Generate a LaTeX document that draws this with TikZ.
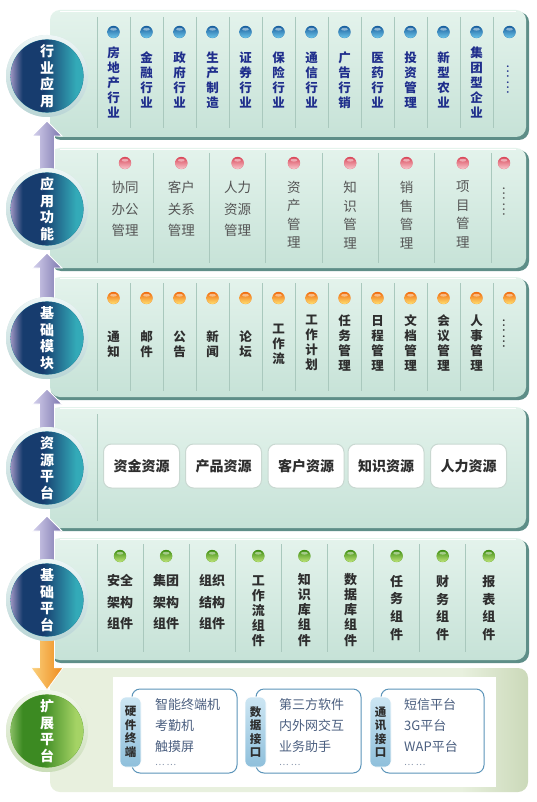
\documentclass[tikz,border=0pt]{standalone}
\usepackage{fontspec}
\setmainfont{Noto Sans CJK SC}
\usetikzlibrary{calc}
\definecolor{paneltop}{HTML}{E4F3EC}
\definecolor{panelbot}{HTML}{C6E2D7}
\definecolor{panelshadow}{HTML}{5E8E88}
\definecolor{sepcol}{HTML}{A9C8BD}
\definecolor{bluetxt}{HTML}{1F2E8C}
\definecolor{graytxt}{HTML}{555555}
\definecolor{darktxt}{HTML}{2E2E2E}
\definecolor{ringtop}{HTML}{EEF6F6}
\definecolor{ringbot}{HTML}{B9D5D5}
\definecolor{gringtop}{HTML}{F2F7EC}
\definecolor{gringbot}{HTML}{CADDB8}
\definecolor{cnavy}{HTML}{173C6E}
\definecolor{cteal}{HTML}{33AAB8}
\definecolor{clav}{HTML}{9B93C0}
\definecolor{gdark}{HTML}{3C8A22}
\definecolor{glight}{HTML}{A5D365}
\definecolor{glav}{HTML}{86BC62}
\definecolor{arrL}{HTML}{D6D2EE}
\definecolor{arrR}{HTML}{7C76AE}
\definecolor{orL}{HTML}{FBD27E}
\definecolor{orR}{HTML}{EE8A1C}
\definecolor{dbluet}{HTML}{1A5E9E}
\definecolor{dblueb}{HTML}{6CC6EA}
\definecolor{dpinkt}{HTML}{D9485A}
\definecolor{dpinkb}{HTML}{F9C6CC}
\definecolor{doranget}{HTML}{F06A10}
\definecolor{dorangeb}{HTML}{FFE070}
\definecolor{dgreent}{HTML}{3F8E14}
\definecolor{dgreenb}{HTML}{BFE47A}
\definecolor{boxblue}{HTML}{5B94B9}
\definecolor{tabtop}{HTML}{CDE6F3}
\definecolor{tabbot}{HTML}{8EBFDB}
\definecolor{itemtxt}{HTML}{4B5F80}
\definecolor{extL}{HTML}{E8F0DE}
\definecolor{extR}{HTML}{CBD9B9}
\definecolor{resline}{HTML}{C9D8D1}
\pgfdeclarehorizontalshading{circblue}{100bp}{color(0bp)=(clav); color(25bp)=(clav); color(33bp)=(cnavy); color(47bp)=(cnavy); color(70bp)=(cteal); color(100bp)=(cteal)}
\pgfdeclarehorizontalshading{circgreen}{100bp}{color(0bp)=(glav); color(25bp)=(glav); color(33bp)=(gdark); color(47bp)=(gdark); color(70bp)=(glight); color(100bp)=(glight)}
\pgfdeclarehorizontalshading{extshade}{100bp}{color(0bp)=(extL); color(25bp)=(extL); color(68bp)=(extL); color(75bp)=(extR); color(100bp)=(extR)}
\tikzset{
  sepline/.style={draw=sepcol, line width=0.9pt},
  txtone/.style={text=bluetxt, font=\bfseries\fontsize{12.5}{15}\selectfont, align=center, inner sep=0pt},
  txttwo/.style={text=graytxt, font=\fontsize{13.5}{21.5}\selectfont, align=center, inner sep=0pt, anchor=north},
  txttwov/.style={text=graytxt, font=\fontsize{13.5}{18.5}\selectfont, align=center, inner sep=0pt, anchor=north},
  txtthree/.style={text=darktxt, font=\bfseries\fontsize{12.5}{15}\selectfont, align=center, inner sep=0pt},
  txtfive/.style={text=darktxt, font=\bfseries\fontsize{13}{21.5}\selectfont, align=center, inner sep=0pt, anchor=north},
  txtfivev/.style={text=darktxt, font=\bfseries\fontsize{13}{15.2}\selectfont, align=center, inner sep=0pt, anchor=north},
  txtfivew/.style={text=darktxt, font=\bfseries\fontsize{13}{17.7}\selectfont, align=center, inner sep=0pt, anchor=north},
  ellip/.style={font=\fontsize{13}{13}\selectfont, rotate=-90, inner sep=0pt},
  dotb/.style={top color=dbluet, bottom color=dblueb},
  dotp/.style={top color=dpinkt, bottom color=dpinkb},
  doto/.style={top color=doranget, bottom color=dorangeb},
  dotg/.style={top color=dgreent, bottom color=dgreenb},
  resbox/.style={draw=resline, line width=1pt, fill=white, rounded corners=8pt, minimum width=76pt, minimum height=44pt, inner sep=0pt, font=\bfseries\fontsize{14}{16}\selectfont, text=darktxt},
  circslot/.style={circle, minimum size=82pt, inner sep=0pt},
  ringblue/.style={circle, minimum size=82pt, inner sep=0pt, top color=ringtop, bottom color=ringbot},
  ringgreen/.style={circle, minimum size=82pt, inner sep=0pt, top color=gringtop, bottom color=gringbot},
  circtext/.style={text=white, font=\bfseries\fontsize{14}{16.5}\selectfont, align=center, inner sep=0pt},
  uparr/.style={left color=arrL, right color=arrR, draw=white, line width=0.8pt},
  dnarr/.style={left color=orL, right color=orR, draw=white, line width=0.8pt},
  extbox/.style={draw=boxblue, line width=1pt, fill=white, rounded corners=8pt},
  tabbox/.style={top color=tabtop, bottom color=tabbot, draw=white, line width=0.6pt, rounded corners=6pt, minimum width=21pt, minimum height=70pt, inner sep=0pt, align=center, text=darktxt, font=\bfseries\fontsize{11.5}{13.5}\selectfont},
  item/.style={anchor=west, inner sep=0pt, text=itemtxt, font=\fontsize{13}{15}\selectfont},
  itemdots/.style={anchor=west, inner sep=0pt, text=itemtxt!70, font=\fontsize{9}{10}\selectfont}
}
\newcommand\upar[3]{\path[uparr] let \p1=(#1.south), \p2=(#2.north) in
  (\x1,-#3pt) -- (\x1+15pt,-#3pt-15pt) -- (\x1+7.5pt,-#3pt-15pt) -- (\x1+7.5pt,\y2-12pt)
  -- (\x1-7.5pt,\y2-12pt) -- (\x1-7.5pt,-#3pt-15pt) -- (\x1-15pt,-#3pt-15pt) -- cycle;}
\newcommand\dnar[2]{\path[dnarr] let \p1=(#1.south), \p2=(#2.north) in
  (\x2,\y2) -- (\x2+16pt,\y2+22pt) -- (\x2+7.5pt,\y2+22pt) -- (\x2+7.5pt,\y1+12pt)
  -- (\x2-7.5pt,\y1+12pt) -- (\x2-7.5pt,\y2+22pt) -- (\x2-16pt,\y2+22pt) -- cycle;}
\newcommand\gdot[4]{\fill[#4] (#2,#3) circle (6.2);\shade[#1] (#2,#3) circle (6);\fill[white, opacity=0.45] (#2,#3-2.8) ellipse (3.4 and 1.4);}
\begin{document}
\begin{tikzpicture}[x=1pt,y=-1pt]
\useasboundingbox (0,0) rectangle (536,802);
\fill[white] (0,0) rectangle (536,802);
% ---- panels
\foreach \t/\b in {10/137,148/268,277/397,407/528,538/660}{
  \fill[panelshadow, rounded corners=10pt] (51,\t+2) rectangle (529,\b+3);
  \shade[top color=paneltop, bottom color=panelbot, rounded corners=10pt] (50,\t) rectangle (526,\b);
  \draw[white, line width=1pt] (60,\t+1.5) -- (516,\t+1.5);
}
\shade[shading=extshade, rounded corners=10pt] (50,668) rectangle (528,792);
\fill[white] (113,677) rectangle (496,787);
% ---- separators
\foreach \i in {0,...,12}{\draw[sepline] (97+33*\i,17) -- ++(0,111);}
\foreach \i in {0,...,7}{\draw[sepline] (97+56.3*\i,153) -- ++(0,110);}
\foreach \i in {0,...,12}{\draw[sepline] (97+33*\i,283) -- ++(0,108);}
\draw[sepline] (97,414) -- ++(0,107);
\foreach \i in {0,...,8}{\draw[sepline] (97+46.1*\i,544) -- ++(0,108);}
% ---- dots
\foreach \i in {0,...,12}{\gdot{dotb}{113.5+33*\i}{32}{dbluet!70!dblueb}}
\foreach \i in {0,...,6}{\gdot{dotp}{125+56.3*\i}{163}{dpinkt!70!dpinkb}}
\gdot{dotp}{504}{163}{dpinkt!70!dpinkb}
\foreach \i in {0,...,12}{\gdot{doto}{113.5+33*\i}{298}{doranget!70!dorangeb}}
\foreach \i in {0,...,8}{\gdot{dotg}{120+46.1*\i}{556}{dgreent!70!dgreenb}}
% ---- band 1: 行业应用
\node[txtone] (a1) at (113.5,82) {房\\地\\产\\行\\业};
\node[txtone] (a2) at (146.5,80) {金\\融\\行\\业};
\node[txtone] (a3) at (179.5,80) {政\\府\\行\\业};
\node[txtone] (a4) at (212.5,80) {生\\产\\制\\造};
\node[txtone] (a5) at (245.5,80) {证\\券\\行\\业};
\node[txtone] (a6) at (278.5,80) {保\\险\\行\\业};
\node[txtone] (a7) at (311.5,80) {通\\信\\行\\业};
\node[txtone] (a8) at (344.5,80) {广\\告\\行\\销};
\node[txtone] (a9) at (377.5,80) {医\\药\\行\\业};
\node[txtone] (a10) at (410.5,80) {投\\资\\管\\理};
\node[txtone] (a11) at (443.5,80) {新\\型\\农\\业};
\node[txtone] (a12) at (476.5,82) {集\\团\\型\\企\\业};
\node[ellip, text=bluetxt] (a13) at (508,79) {…\,…};
% ---- band 2: 应用功能
\node[txttwo] (b1) at (125,181) {协同\\办公\\管理};
\node[txttwo] (b2) at (181.3,181) {客户\\关系\\管理};
\node[txttwo] (b3) at (237.6,181) {人力\\资源\\管理};
\node[txttwov] (b4) at (293.9,181) {资\\产\\管\\理};
\node[txttwov] (b5) at (350.2,181) {知\\识\\管\\理};
\node[txttwov] (b6) at (406.5,181) {销\\售\\管\\理};
\node[txttwov] (b7) at (462.8,181) {项\\目\\管\\理};
\node[ellip, text=graytxt] (b8) at (504,201) {…\,…};
% ---- band 3: 基础模块
\node[txtthree] (m1) at (113.5,344) {通\\知};
\node[txtthree] (m2) at (146.5,344) {邮\\件};
\node[txtthree] (m3) at (179.5,344) {公\\告};
\node[txtthree] (m4) at (212.5,344) {新\\闻};
\node[txtthree] (m5) at (245.5,344) {论\\坛};
\node[txtthree] (m6) at (278.5,344) {工\\作\\流};
\node[txtthree] (m7) at (311.5,343) {工\\作\\计\\划};
\node[txtthree] (m8) at (344.5,343) {任\\务\\管\\理};
\node[txtthree] (m9) at (377.5,343) {日\\程\\管\\理};
\node[txtthree] (m10) at (410.5,343) {文\\档\\管\\理};
\node[txtthree] (m11) at (443.5,343) {会\\议\\管\\理};
\node[txtthree] (m12) at (476.5,343) {人\\事\\管\\理};
\node[ellip, text=darktxt] (m13) at (504,333) {…\,…};
% ---- band 4: 资源平台
\node[resbox] (r1) at (141.5,466) {资金资源};
\node[resbox] (r2) at (223.5,466) {产品资源};
\node[resbox] (r3) at (306,466) {客户资源};
\node[resbox] (r4) at (386,466) {知识资源};
\node[resbox] (r5) at (468.5,466) {人力资源};
% ---- band 5: 基础平台
\node[txtfive] (p1) at (120,574.5) {安全\\架构\\组件};
\node[txtfive] (p2) at (166.1,574.5) {集团\\架构\\组件};
\node[txtfive] (p3) at (212.2,574.5) {组织\\结构\\组件};
\node[txtfivev] (p4) at (258.3,575) {工\\作\\流\\组\\件};
\node[txtfivev] (p5) at (304.4,573) {知\\识\\库\\组\\件};
\node[txtfivev] (p6) at (350.5,573) {数\\据\\库\\组\\件};
\node[txtfivew] (p7) at (396.6,575) {任\\务\\组\\件};
\node[txtfivew] (p8) at (442.7,575) {财\\务\\组\\件};
\node[txtfivew] (p9) at (488.8,575) {报\\表\\组\\件};
% ---- band 6: 扩展平台
\node[extbox, minimum width=105pt, minimum height=84pt] (e1) at (184.5,731) {};
\node[extbox, minimum width=105pt, minimum height=84pt] (e2) at (308.5,731) {};
\node[extbox, minimum width=103pt, minimum height=84pt] (e3) at (432.5,731) {};
\node[tabbox] (t1) at ($(e1.west)+(-1,1)$) {硬\\件\\终\\端};
\node[tabbox] (t2) at ($(e2.west)+(0,1)$) {数\\据\\接\\口};
\node[tabbox] (t3) at ($(e3.west)+(0,1)$) {通\\讯\\接\\口};
\node[item] (i11) at (155,705) {智能终端机};
\node[item] (i12) at (155,726) {考勤机};
\node[item] (i13) at (155,747) {触摸屏};
\node[itemdots] (i14) at (155,765) {… …};
\node[item] (i21) at (279,705) {第三方软件};
\node[item] (i22) at (279,726) {内外网交互};
\node[item] (i23) at (279,747) {业务助手};
\node[itemdots] (i24) at (279,765) {… …};
\node[item] (i31) at (404,705) {短信平台};
\node[item] (i32) at (404,726) {3G平台};
\node[item] (i33) at (404,747) {WAP平台};
\node[itemdots] (i34) at (404,765) {… …};
% ---- circle slots
\path node[circslot] (c1) at (47,76) {}
      node[circslot] (c2) at (47,209) {}
      node[circslot] (c3) at (47,338) {}
      node[circslot] (c4) at (47,468) {}
      node[circslot] (c5) at (47,600) {}
      node[circslot] (c6) at (47,731) {};
% ---- arrows
\upar{c1}{c2}{121}
\upar{c2}{c3}{253}
\upar{c3}{c4}{389}
\upar{c4}{c5}{516}
\dnar{c5}{c6}
% ---- circles
\foreach \c in {c1,c2,c3,c4,c5}{
  \fill[ringtop!50!ringbot] (\c.center) circle (41);
  \node[ringblue] at (\c) {};
  \fill[cteal!60!cnavy] (\c.center) circle (36.6);
  \shade[shading=circblue] (\c.center) circle (36.3);
}
\fill[gringtop!50!gringbot] (c6.center) circle (41);
\node[ringgreen] at (c6) {};
\fill[gdark!60!glight] (c6.center) circle (36.6);
\shade[shading=circgreen] (c6.center) circle (36.3);
\node[circtext] at (c1) {行\\业\\应\\用};
\node[circtext] at (c2) {应\\用\\功\\能};
\node[circtext] at (c3) {基\\础\\模\\块};
\node[circtext] at (c4) {资\\源\\平\\台};
\node[circtext] at (c5) {基\\础\\平\\台};
\node[circtext] at (c6) {扩\\展\\平\\台};
\end{tikzpicture}
\end{document}
